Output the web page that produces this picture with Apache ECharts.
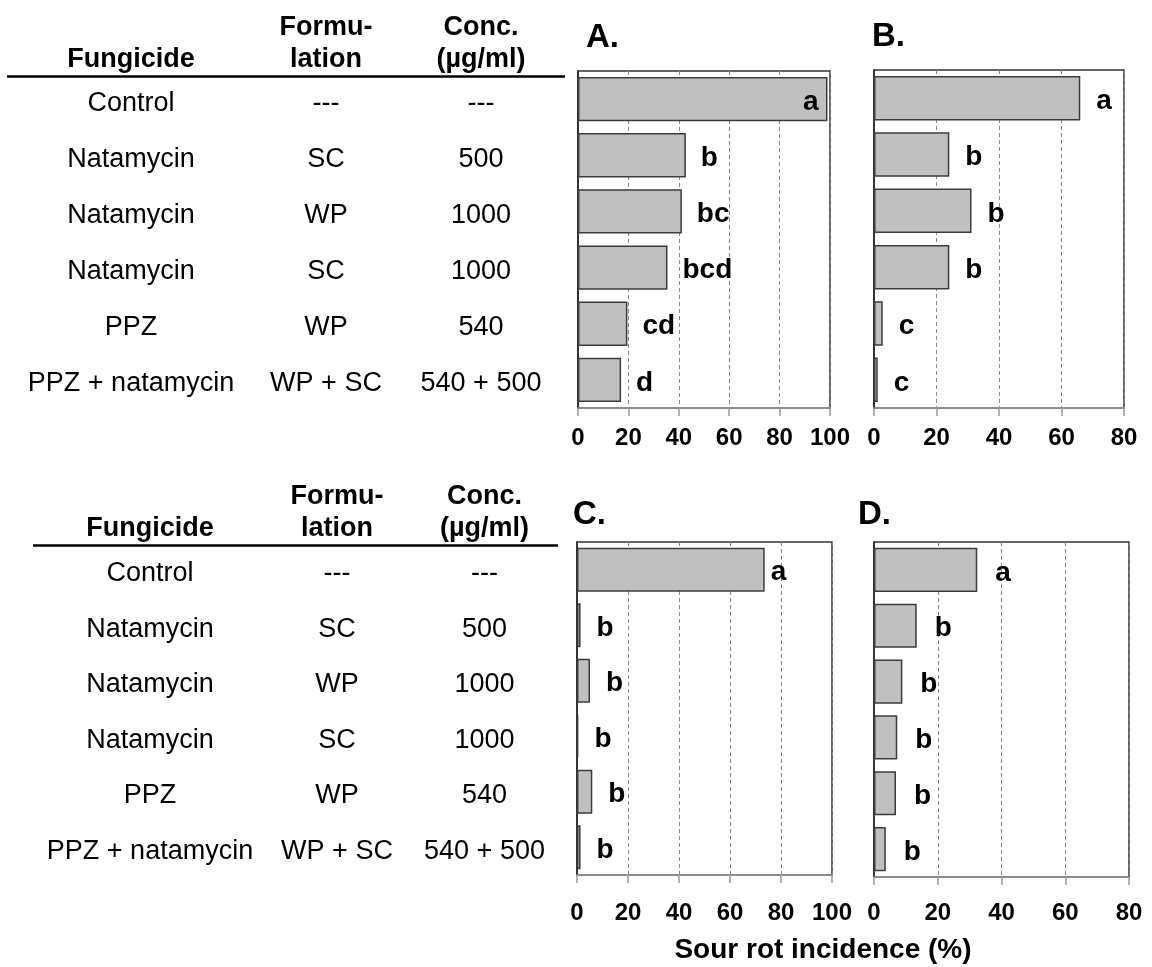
<!DOCTYPE html>
<html>
<head>
<meta charset="utf-8">
<title>Sour rot incidence</title>
<script src="https://cdn.jsdelivr.net/npm/echarts@6/dist/echarts.min.js"></script>
<style>
  html, body { margin: 0; padding: 0; background: #fff; }
  #chart { width: 1152px; height: 967px; }
</style>
</head>
<body>
<div id="chart"></div>
<script>
// Treatments (rows, top to bottom)
const fungicides = ['Control', 'Natamycin', 'Natamycin', 'Natamycin', 'PPZ', 'PPZ + natamycin'];
const formulations = ['---', 'SC', 'WP', 'SC', 'WP', 'WP + SC'];
const concentrations = ['---', '500', '1000', '1000', '540', '540 + 500'];

// Sour rot incidence (%) per experiment, with mean-separation letters
const incidenceA = [99, 42.8, 41.2, 35.5, 19.6, 17.1];
const lettersA = ['a', 'b', 'bc', 'bcd', 'cd', 'd'];
const incidenceB = [66, 24.1, 31.2, 24.1, 2.8, 1.2];
const lettersB = ['a', 'b', 'b', 'b', 'c', 'c'];
const incidenceC = [73.6, 1.4, 5.1, 0.5, 6.0, 1.4];
const lettersC = ['a', 'b', 'b', 'b', 'b', 'b'];
const incidenceD = [32.4, 13.4, 8.9, 7.3, 6.9, 3.7];
const lettersD = ['a', 'b', 'b', 'b', 'b', 'b'];

// Axis scales
const axisMaxAC = 100;
const axisMaxBD = 80;
const tickStep = 20;

const headerTop = ['Formu-', 'Conc.'];
const headerBottom = ['Fungicide', 'lation', '(µg/ml)'];
const axisTitle = 'Sour rot incidence (%)';

const FONT = 'Liberation Sans, Arial, sans-serif';

const panels = [
  { name: 'A.', values: incidenceA, letters: lettersA, max: axisMaxAC,
    grid: { left: 578, top: 71, width: 252, height: 337 }, gap: 15,
    first: { position: 'insideRight', distance: 9 }, titlePos: [586, 38], tickMargin: 18 },
  { name: 'B.', values: incidenceB, letters: lettersB, max: axisMaxBD,
    grid: { left: 874, top: 70, width: 250, height: 338 }, gap: 16,
    first: null, titlePos: [872, 37], tickMargin: 18 },
  { name: 'C.', values: incidenceC, letters: lettersC, max: axisMaxAC,
    grid: { left: 577, top: 542, width: 255, height: 333 }, gap: 16,
    first: { position: 'right', distance: 6 }, titlePos: [573, 515], tickMargin: 26 },
  { name: 'D.', values: incidenceD, letters: lettersD, max: axisMaxBD,
    grid: { left: 874, top: 542, width: 255, height: 335 }, gap: 18,
    first: null, titlePos: [858, 515], tickMargin: 24 }
];

const chart = echarts.init(document.getElementById('chart'), null, { renderer: 'canvas' });

const grids = [], xAxes = [], yAxes = [], series = [];
panels.forEach((p, i) => {
  grids.push(Object.assign({ show: true, borderColor: '#333', borderWidth: 1.5,
    backgroundColor: '#fff', containLabel: false }, p.grid));
  xAxes.push({
    type: 'value', gridIndex: i, min: 0, max: p.max, interval: tickStep,
    axisLine: { show: true, lineStyle: { color: '#9a9a9a', width: 1.5 } },
    axisTick: { show: true, inside: false, length: 8, lineStyle: { color: '#9a9a9a', width: 1.5 } },
    axisLabel: { show: true, margin: p.tickMargin, color: '#000', fontFamily: FONT,
      fontWeight: 'bold', fontSize: 24, hideOverlap: false,
      showMinLabel: true, showMaxLabel: true },
    splitLine: { show: true, lineStyle: { color: '#888', width: 1, type: [4, 3] } }
  });
  yAxes.push({
    type: 'category', gridIndex: i, data: fungicides, inverse: true,
    axisLine: { show: true, lineStyle: { color: '#222', width: 1.5 } },
    axisTick: { show: false }, axisLabel: { show: false }, splitLine: { show: false }
  });
  series.push({
    type: 'bar', xAxisIndex: i, yAxisIndex: i,
    barCategoryGap: '21%',
    itemStyle: { color: '#c0c0c0', borderColor: '#3c3c3c', borderWidth: 1.5 },
    label: {
      show: true, position: 'right', distance: p.gap, offset: [0, 3],
      color: '#000', fontFamily: FONT, fontWeight: 'bold', fontSize: 28,
      formatter: (d) => p.letters[d.dataIndex]
    },
    data: p.values.map((v, k) => (k === 0 && p.first)
      ? { value: v, label: { position: p.first.position, distance: p.first.distance } }
      : v),
    silent: true, animation: false
  });
});

chart.setOption({
  animation: false,
  grid: grids, xAxis: xAxes, yAxis: yAxes, series: series
});

// Table of treatments, panel letters and the shared axis title
const graphics = [];
const txt = (x, y, text, opts) => graphics.push({
  type: 'text', x: x, y: y, silent: true,
  style: Object.assign({ text: text, fill: '#000', font: '27px ' + FONT,
    textAlign: 'center', textVerticalAlign: 'middle' }, opts || {})
});

const tables = [
  { gridIndex: 0, cols: [131, 326, 481], rule: [7, 565, 76.5], headerY: 60 },
  { gridIndex: 2, cols: [150, 337, 484.5], rule: [33, 558, 545.5], headerY: 529 }
];

tables.forEach((t) => {
  const bold = { font: 'bold 27px ' + FONT };
  txt(t.cols[1], t.headerY - 32, headerTop[0], bold);
  txt(t.cols[2], t.headerY - 32, headerTop[1], bold);
  txt(t.cols[0], t.headerY, headerBottom[0], bold);
  txt(t.cols[1], t.headerY, headerBottom[1], bold);
  txt(t.cols[2], t.headerY, headerBottom[2], bold);
  graphics.push({ type: 'line', silent: true,
    shape: { x1: t.rule[0], y1: t.rule[2], x2: t.rule[1], y2: t.rule[2] },
    style: { stroke: '#000', lineWidth: 2.5 } });
  fungicides.forEach((f, k) => {
    const y = chart.convertToPixel({ xAxisIndex: t.gridIndex, yAxisIndex: t.gridIndex }, [0, k])[1] + 4;
    txt(t.cols[0], y, f);
    txt(t.cols[1], y, formulations[k]);
    txt(t.cols[2], y, concentrations[k]);
  });
});

panels.forEach((p) => {
  txt(p.titlePos[0], p.titlePos[1], p.name,
    { font: 'bold 33px ' + FONT, textAlign: 'left' });
});

txt(823, 950, axisTitle, { font: 'bold 28px ' + FONT });

chart.setOption({ graphic: graphics });
</script>
</body>
</html>
